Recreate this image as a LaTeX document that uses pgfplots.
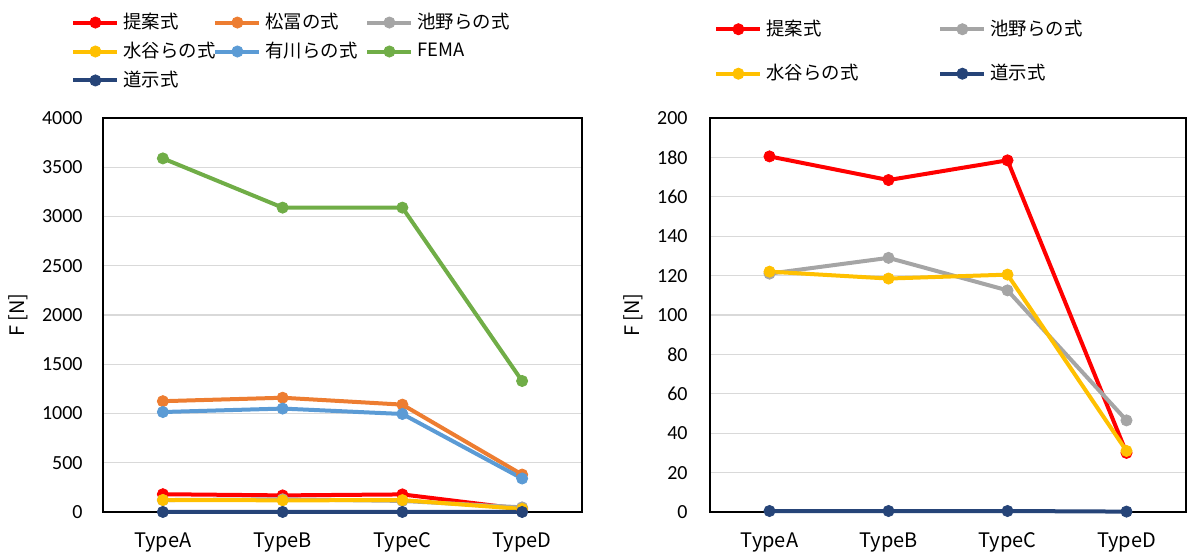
\documentclass[border=0pt]{standalone}
\usepackage{fontspec}
\setmainfont{Carlito}
\newfontfamily\cjk{Noto Sans CJK JP}
\usepackage{pgfplots}
\pgfplotsset{compat=1.18}
\definecolor{cRed}{HTML}{FF0000}
\definecolor{cOrange}{HTML}{ED7D31}
\definecolor{cGray}{HTML}{A5A5A5}
\definecolor{cYellow}{HTML}{FFC000}
\definecolor{cBlue}{HTML}{5B9BD5}
\definecolor{cGreen}{HTML}{70AD47}
\definecolor{cNavy}{HTML}{264478}
\definecolor{gridc}{HTML}{D9D9D9}
\newcommand{\legbox}[1]{\makebox[46pt][l]{#1}}
\newcommand{\legboxw}[1]{\makebox[51pt][l]{#1}}
\pgfplotsset{
  mystyle/.style={
    scale only axis,
    xmin=-0.5, xmax=3.5, ymin=0,
    xtick={0,1,2,3},
    xticklabels={TypeA,TypeB,TypeC,TypeD},
    major tick length=0pt,
    ymajorgrids,
    grid style={gridc, line width=0.6pt},
    axis line style={black, line width=0.8pt},
    /pgf/number format/assume math mode=true,
    /pgf/number format/1000 sep={},
    yticklabel style={font=\fontsize{10}{12}\selectfont, inner sep=0pt, anchor=east},
    xticklabel style={font=\fontsize{10}{12}\cjk, inner sep=0pt, anchor=base, yshift=-18pt},
    clip=false,
    legend cell align=left,
    legend image code/.code={\draw[mark repeat=2,mark phase=2,##1] plot coordinates {(0pt,0pt) (11pt,0pt) (22pt,0pt)};},
    every axis plot/.append style={line width=2pt, mark=*, mark size=2.8pt, mark options={solid, line width=0.4pt}},
  }
}
\begin{document}
\begin{tikzpicture}
\path[use as bounding box] (0,0) rectangle (593.5pt,278pt);
% Left chart
\begin{axis}[mystyle,
  at={(51.5pt,22pt)}, anchor=south west,
  width=239.5pt, height=197pt,
  ymax=4000, ytick distance=500,
  yticklabel style={xshift=-10pt},
  ylabel={F [N]},
  every axis y label/.style={at={(rel axis cs:-0.1775,0.5)}, anchor=center, rotate=90, font=\fontsize{10}{12}\cjk},
  legend columns=3,
  legend style={draw=none, fill=none, at={(-0.0793,1.287)}, anchor=north west,
    font=\fontsize{9.2}{11}\cjk, row sep=1.25pt,
    /tikz/every even column/.append style={column sep=-3pt}},
]
\addplot[cRed] coordinates {(0,180.5) (1,168.5) (2,178.5) (3,30)};
\addlegendentry{\legbox{提案式}}
\addplot[cOrange] coordinates {(0,1125) (1,1160) (2,1090) (3,380)};
\addlegendentry{\legboxw{松冨の式}}
\addplot[cGray] coordinates {(0,121) (1,129) (2,112.5) (3,47)};
\addlegendentry{\legbox{池野らの式}}
\addplot[cYellow] coordinates {(0,122) (1,118.5) (2,120.5) (3,31)};
\addlegendentry{\legbox{水谷らの式}}
\addplot[cBlue] coordinates {(0,1015) (1,1050) (2,995) (3,340)};
\addlegendentry{\legboxw{有川らの式}}
\addplot[cGreen] coordinates {(0,3590) (1,3090) (2,3090) (3,1330)};
\addlegendentry{\legbox{FEMA}}
\addplot[cNavy] coordinates {(0,0.5) (1,0.5) (2,0.5) (3,0.2)};
\addlegendentry{\legbox{道示式}}
\end{axis}
% Right chart
\begin{axis}[mystyle,
  at={(355pt,22pt)}, anchor=south west,
  width=238pt, height=197pt,
  ymax=200, ytick distance=20,
  yticklabel style={xshift=-11pt},
  ylabel={F [N]},
  every axis y label/.style={at={(rel axis cs:-0.1618,0.5)}, anchor=center, rotate=90, font=\fontsize{10}{12}\cjk},
  legend columns=2,
  legend style={draw=none, fill=none, at={(-0.0042,1.27)}, anchor=north west,
    font=\fontsize{9.2}{11}\cjk, row sep=9pt,
    /tikz/every even column/.append style={column sep=38pt}},
]
\addplot[cRed] coordinates {(0,180.5) (1,168.5) (2,178.5) (3,30)};
\addlegendentry{提案式}
\addplot[cGray] coordinates {(0,121) (1,129) (2,112.5) (3,46.5)};
\addlegendentry{池野らの式}
\addplot[cYellow] coordinates {(0,122) (1,118.5) (2,120.5) (3,31)};
\addlegendentry{水谷らの式}
\addplot[cNavy] coordinates {(0,0.5) (1,0.5) (2,0.5) (3,0.2)};
\addlegendentry{道示式}
\end{axis}
\end{tikzpicture}
\end{document}
